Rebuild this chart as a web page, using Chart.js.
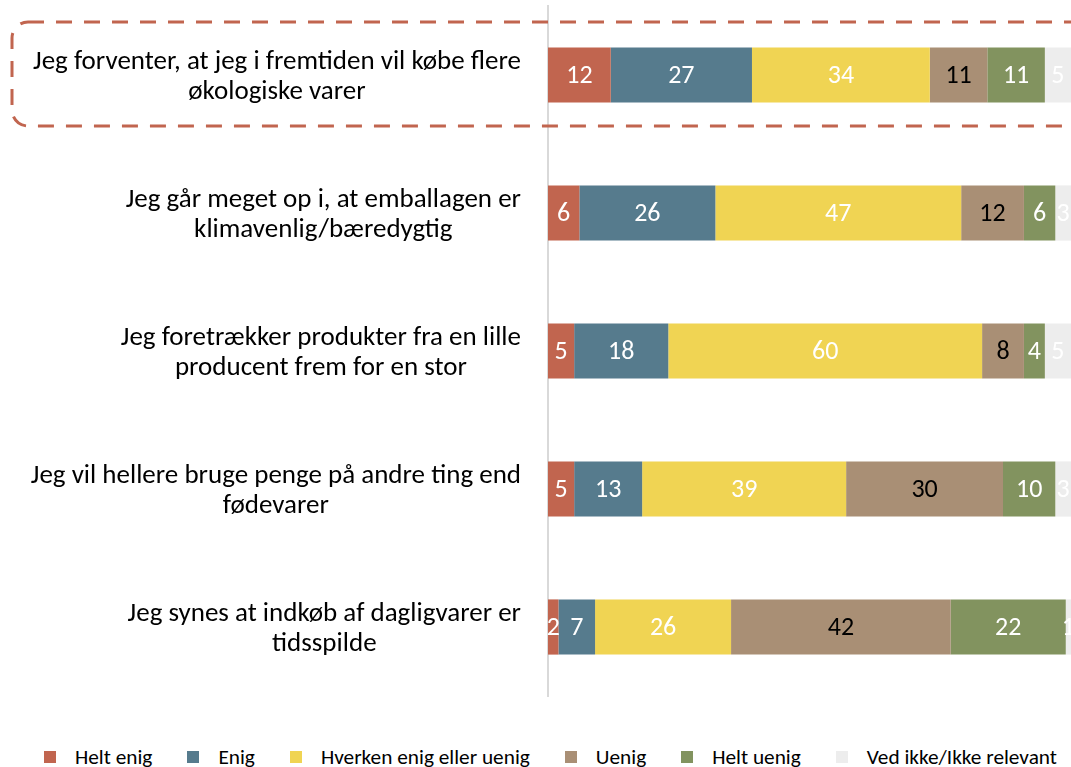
<!DOCTYPE html>
<html>
<head>
<meta charset="utf-8">
<script src="https://cdn.jsdelivr.net/npm/chart.js@4"></script>
<style>
  body { margin: 0; background: #fff; font-family: Carlito, Lato, sans-serif; }
  #wrap { position: relative; width: 1071px; height: 735px; }
  #legend { display: flex; justify-content: center; align-items: center; height: 44px; font-size: 21.3px; color: #000; padding-left: 30px; }
  #legend .item { display: flex; align-items: center; margin-right: 35px; }
  #legend .item:last-child { margin-right: 0; }
  #legend .box { width: 12px; height: 12px; margin-right: 19px; }
</style>
</head>
<body>
<div id="wrap"><canvas id="chart"></canvas></div>
<div id="legend"></div>
<script>
const categories = [
  ['Jeg forventer, at jeg i fremtiden vil købe flere', 'økologiske varer'],
  ['Jeg går meget op i, at emballagen er', 'klimavenlig/bæredygtig'],
  ['Jeg foretrækker produkter fra en lille', 'producent frem for en stor'],
  ['Jeg vil hellere bruge penge på andre ting end', 'fødevarer'],
  ['Jeg synes at indkøb af dagligvarer er', 'tidsspilde']
];
const seriesNames = ['Helt enig', 'Enig', 'Hverken enig eller uenig', 'Uenig', 'Helt uenig', 'Ved ikke/Ikke relevant'];
const heltEnig = [12, 6, 5, 5, 2];
const enig = [27, 26, 18, 13, 7];
const hverken = [34, 47, 60, 39, 26];
const uenig = [11, 12, 8, 30, 42];
const heltUenig = [11, 6, 4, 10, 22];
const vedIkke = [5, 3, 5, 3, 1];
const colors = ['#C1654F', '#567B8D', '#F0D453', '#A98F75', '#82935F', '#EDEDED'];
const labelColors = ['#fff', '#fff', '#fff', '#000', '#fff', '#fff'];

const FONT = 'Carlito, Lato, sans-serif';

const valueLabels = {
  id: 'valueLabels',
  afterDatasetsDraw(chart) {
    const ctx = chart.ctx;
    ctx.save();
    ctx.font = '26px ' + FONT;
    ctx.textAlign = 'center';
    ctx.textBaseline = 'middle';
    chart.data.datasets.forEach((ds, i) => {
      chart.getDatasetMeta(i).data.forEach((bar, j) => {
        ctx.fillStyle = labelColors[i];
        ctx.fillText(ds.data[j], (bar.x + bar.base) / 2, bar.y + 1);
      });
    });
    ctx.restore();
  }
};

const catLabels = {
  id: 'catLabels',
  afterDraw(chart) {
    const ctx = chart.ctx;
    const y = chart.scales.y;
    ctx.save();
    ctx.font = '27px ' + FONT;
    ctx.fillStyle = '#000';
    ctx.textAlign = 'center';
    ctx.textBaseline = 'middle';
    categories.forEach((lines, i) => {
      const cy = y.getPixelForValue(i) + 2;
      const w = Math.max(...lines.map(l => ctx.measureText(l).width));
      const cx = 521 - w / 2;
      lines.forEach((l, k) => {
        ctx.fillText(l, cx, cy + (k - (lines.length - 1) / 2) * 30);
      });
    });
    // dashed highlight around first statement
    const c0 = y.getPixelForValue(0);
    ctx.strokeStyle = '#C1654F';
    ctx.lineWidth = 3;
    ctx.setLineDash([16, 12]);
    ctx.beginPath();
    ctx.roundRect(12, c0 - 53, 1090, 104, 16);
    ctx.stroke();
    ctx.restore();
  }
};

const ctx = document.getElementById('chart').getContext('2d');
new Chart(ctx, {
  type: 'bar',
  data: {
    labels: categories,
    datasets: [heltEnig, enig, hverken, uenig, heltUenig, vedIkke].map((d, i) => ({
      label: seriesNames[i],
      data: d,
      backgroundColor: colors[i],
      borderWidth: 0
    }))
  },
  options: {
    indexAxis: 'y',
    responsive: true,
    maintainAspectRatio: false,
    animation: false,
    layout: { padding: { left: 548, right: 0, top: 6, bottom: 39 } },
    datasets: { bar: { categoryPercentage: 0.4, barPercentage: 1 } },
    scales: {
      x: { stacked: true, min: 0, max: 100, display: false },
      y: {
        stacked: true,
        grid: { display: false, drawTicks: false },
        ticks: { display: false },
        border: { display: true, color: '#D9D9D9', width: 2 }
      }
    },
    plugins: {
      legend: { display: false },
      tooltip: { enabled: false }
    }
  },
  plugins: [valueLabels, catLabels]
});

const legend = document.getElementById('legend');
seriesNames.forEach((n, i) => {
  const item = document.createElement('div');
  item.className = 'item';
  item.innerHTML = '<span class="box" style="background:' + colors[i] + '"></span><span>' + n + '</span>';
  legend.appendChild(item);
});
</script>
</body>
</html>
